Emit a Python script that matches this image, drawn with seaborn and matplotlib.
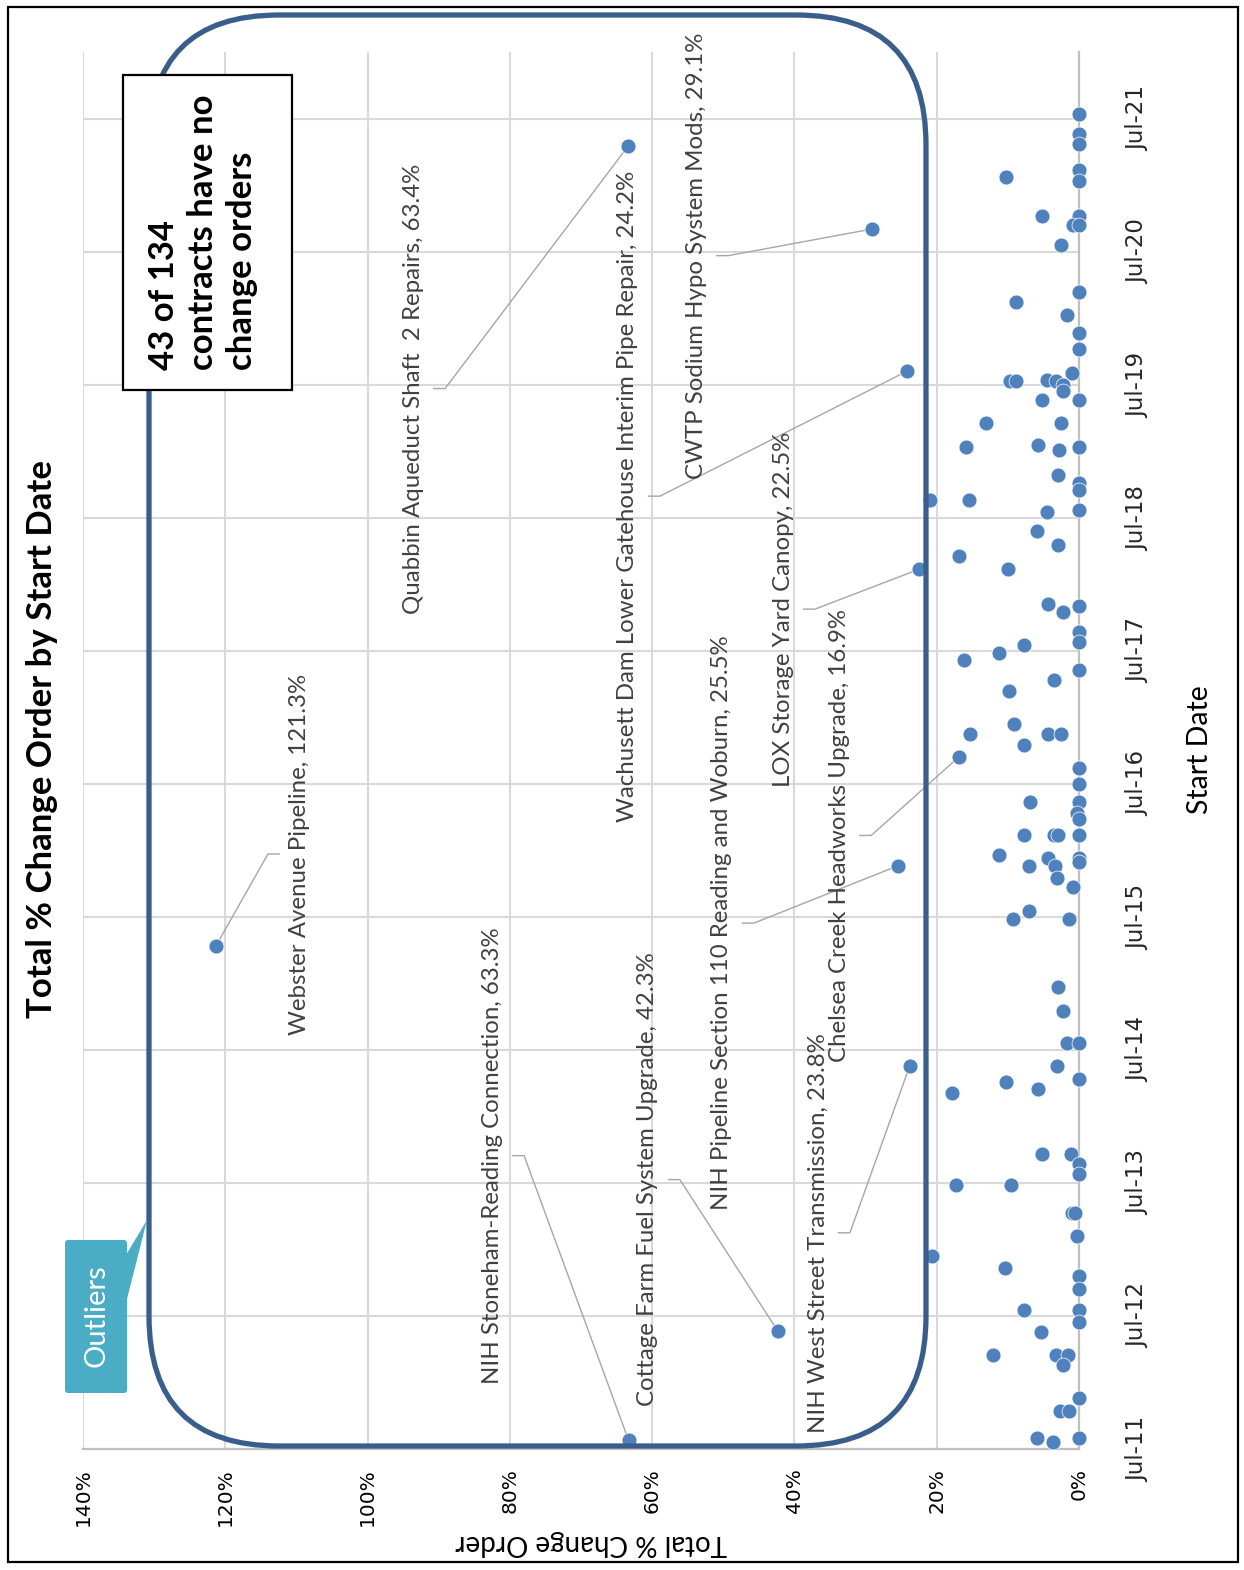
import numpy as np
import pandas as pd
import matplotlib
matplotlib.use("Agg")
import matplotlib.pyplot as plt
import matplotlib.dates as mdates
from matplotlib.patches import FancyBboxPatch, Polygon, Rectangle
import seaborn as sns

# ---------------- data ----------------
# total % change order of each contract
pct_values = [
    0, 0, 0, 10.2, 0, 0, 5.2, 0, 0.9, 0, 2.6, 0, 8.8, 1.7, 0, 0, 1.0, 9.7, 8.9, 4.5,
    3.3, 2.2, 2.3, 5.2, 0, 13.1, 2.6,
    15.9, 5.8, 2.8, 0, 3.0, 0, 0, 20.9, 15.4, 4.5, 0, 5.9, 3.0, 16.9, 10.0, 4.4, 2.3,
    0, 0, 0, 7.7, 11.2, 16.2, 0, 3.5, 9.8, 9.1, 15.3, 4.4, 2.6, 7.7, 0, 0,
    6.9, 0, 0.3, 0, 7.8, 3.5, 2.9, 0, 11.3, 7.0, 4.4, 3.4, 3.1, 0.9, 0, 0, 7.0, 9.3,
    1.4, 3.0, 2.2, 1.7, 0, 3.1, 10.2, 5.8, 0, 17.9,
    5.2, 1.1, 0, 0, 17.3, 9.6, 1.0, 0.5, 0.3, 20.6, 10.4, 0, 0, 7.7, 0, 0, 5.3, 12.1,
    3.3, 1.6, 2.2, 0, 2.7, 1.4, 5.9, 3.6, 0,
    # labelled contracts
    121.3, 63.3, 42.3, 63.4, 24.2, 29.1, 22.5, 16.9, 25.5, 23.8,
]
# start date of each contract (decimal year)
start_years = [
    2021.53, 2021.385, 2021.31, 2021.06, 2021.11, 2021.03, 2020.77, 2020.77, 2020.70, 2020.70,
    2020.55, 2020.20, 2020.12, 2020.025, 2019.89, 2019.77, 2019.585, 2019.53, 2019.53, 2019.535,
    2019.53, 2019.50, 2019.45, 2019.385, 2019.385, 2019.21, 2019.21,
    2019.03, 2019.045, 2019.01, 2019.03, 2018.82, 2018.76, 2018.71, 2018.63, 2018.63, 2018.54,
    2018.555, 2018.40, 2018.29, 2018.21, 2018.11, 2017.845, 2017.79,
    2017.83, 2017.64, 2017.56, 2017.54, 2017.48, 2017.43, 2017.355, 2017.275, 2017.195, 2016.95,
    2016.875, 2016.875, 2016.875, 2016.79, 2016.62, 2016.495,
    2016.36, 2016.36, 2016.28, 2016.23, 2016.11, 2016.11, 2016.11, 2016.11, 2015.96, 2015.88,
    2015.94, 2015.88, 2015.79, 2015.725, 2015.94, 2015.91, 2015.54, 2015.48,
    2015.48, 2014.97, 2014.79, 2014.545, 2014.545, 2014.375, 2014.255, 2014.20, 2014.275, 2014.17,
    2013.71, 2013.71, 2013.64, 2013.56, 2013.48, 2013.48, 2013.27, 2013.27, 2013.095, 2012.95,
    2012.855, 2012.80, 2012.70, 2012.545, 2012.545, 2012.45, 2012.375, 2012.205,
    2012.205, 2012.205, 2012.125, 2011.88, 2011.78, 2011.78, 2011.575, 2011.55, 2011.575,
    # labelled contracts
    2015.28, 2011.56, 2012.38, 2021.29, 2019.60, 2020.67, 2018.11, 2016.70, 2015.88, 2014.375,
]

label_names = [
    "Webster Avenue Pipeline, 121.3%",
    "NIH Stoneham-Reading Connection, 63.3%",
    "Cottage Farm Fuel System Upgrade, 42.3%",
    "Quabbin Aqueduct Shaft  2 Repairs, 63.4%",
    "Wachusett Dam Lower Gatehouse Interim Pipe Repair, 24.2%",
    "CWTP Sodium Hypo System Mods, 29.1%",
    "LOX Storage Yard Canopy, 22.5%",
    "Chelsea Creek Headworks Upgrade, 16.9%",
    "NIH Pipeline Section 110 Reading and Woburn, 25.5%",
    "NIH West Street Transmission, 23.8%",
]
label_point_pct = [121.3, 63.3, 42.3, 63.4, 24.2, 29.1, 22.5, 16.9, 25.5, 23.8]
label_point_year = [2015.28, 2011.56, 2012.38, 2021.29, 2019.60, 2020.67, 2018.11, 2016.70, 2015.88, 2014.375]

# label placement (layout, not data)
label_text_pct = [109.5, 82.5, 60.6, 93.6, 63.4, 53.8, 41.6, 33.7, 50.2, 36.7]
label_text_year = [2015.97, 2013.70, 2013.52, 2019.47, 2018.66, 2020.47, 2017.81, 2016.11, 2015.45, 2013.12]
label_side = [1, -1, -1, -1, -1, -1, -1, -1, -1, -1]

pct_ticks = [0, 20, 40, 60, 80, 100, 120, 140]
tick_years = list(range(2011, 2022))

note_text = "43 of 134\ncontracts have no\nchange orders"


def to_date(y):
    base = pd.Timestamp(year=int(y), month=1, day=1)
    return base + pd.Timedelta(days=(y - int(y)) * 365.25)


# ---------------- figure ----------------
W, H = 1244, 1570
sns.set_style("white")
plt.rcParams["font.family"] = ["Lato", "DejaVu Sans"]

fig = plt.figure(figsize=(W / 100, H / 100), dpi=100)
ax = fig.add_axes([83 / W, (H - 1449) / H, (1079 - 83) / W, (1449 - 52) / H])

df = pd.DataFrame({"pct": pct_values, "date": [to_date(y) for y in start_years]})

# leader lines
for i in range(len(label_names)):
    c = label_text_pct[i]
    s = label_side[i]
    end_p = c + s * 2.8
    elb_p = c + s * 4.5
    ly = to_date(label_text_year[i])
    ax.plot([label_point_pct[i], elb_p, end_p],
            [to_date(label_point_year[i]), ly, ly],
            color="#A6A6A6", lw=1.0, zorder=2, solid_capstyle="butt")

sns.scatterplot(data=df, x="pct", y="date", ax=ax, s=115, color="#4F81BD",
                edgecolor="white", linewidth=0.5, zorder=3, legend=False,
                clip_on=False)

for i, name in enumerate(label_names):
    ax.text(label_text_pct[i], to_date(label_text_year[i]), name, rotation=90,
            rotation_mode="anchor", ha="center", va="center", fontsize=17.3,
            color="#404040", family="Lato", zorder=4)

ax.set_xlim(140, 0)
ax.set_ylim(pd.Timestamp("2011-07-01"), pd.Timestamp("2022-01-01"))
ax.set_xticks(pct_ticks)
ax.set_xticklabels([f"{v}%" for v in pct_ticks], rotation=90, family="DejaVu Sans",
                   fontsize=14.5, color="black")
ax.set_yticks([pd.Timestamp(year=y, month=7, day=1) for y in tick_years])
ax.yaxis.set_major_formatter(mdates.DateFormatter("%b-%y"))
ax.yaxis.tick_right()
for t in ax.get_yticklabels():
    t.set_rotation(90)
    t.set_family("DejaVu Sans")
    t.set_fontsize(16.5)
    t.set_va("center")
ax.tick_params(axis="x", length=0, pad=14)
ax.tick_params(axis="y", length=0, pad=34)
ax.set_xlabel("")
ax.set_ylabel("")
ax.grid(True, color="#D9D9D9", lw=1.5)
ax.set_axisbelow(True)
for side in ["top", "left"]:
    ax.spines[side].set_visible(False)
for side in ["right", "bottom"]:
    ax.spines[side].set_color("#BFBFBF")
    ax.spines[side].set_linewidth(1.6)

# ---------------- annotations in figure pixel space ----------------
def px(x, y):
    return x / 100, (H - y) / 100

# outer border
x0, y0 = px(8, 1562)
fig.add_artist(Rectangle((x0, y0), 1230 / 100, 1555 / 100, transform=fig.dpi_scale_trans,
                         fill=False, ec="black", lw=1.6, zorder=1))

# rounded outline around outliers
x0, y0 = px(149, 1446)
fig.add_artist(FancyBboxPatch((x0, y0), (926 - 149) / 100, (1446 - 15) / 100,
                              boxstyle="round,pad=0,rounding_size=1.3",
                              transform=fig.dpi_scale_trans, fill=False,
                              ec="#3A5E8C", lw=3.8, zorder=2))

# note box
x0, y0 = px(123, 390)
fig.add_artist(Rectangle((x0, y0), (292 - 123) / 100, (390 - 75) / 100,
                         transform=fig.dpi_scale_trans, fc="white", ec="black",
                         lw=1.6, zorder=3))
fig.text(203 / W, 1 - 370 / H, note_text, rotation=90, rotation_mode="anchor",
         ha="left", va="center", multialignment="left", fontsize=25,
         fontweight="bold", family="Lato", linespacing=1.28, color="black", zorder=4)

# "Outliers" callout
x0, y0 = px(65, 1393)
fig.add_artist(FancyBboxPatch((x0, y0), (127 - 65) / 100, (1393 - 1240) / 100,
                              boxstyle="round,pad=0,rounding_size=0.03",
                              transform=fig.dpi_scale_trans, fc="#4BACC6", ec="none",
                              zorder=3))
fig.add_artist(Polygon([px(126, 1255), px(147, 1220), px(126, 1303)], closed=True,
                       transform=fig.dpi_scale_trans, fc="#4BACC6", ec="none", zorder=3))
fig.text(97 / W, 1 - 1316 / H, "Outliers", rotation=90, rotation_mode="anchor",
         ha="center", va="center", fontsize=21, color="white", family="Lato", zorder=4)

# titles
fig.text(42 / W, 1 - 739 / H, "Total % Change Order by Start Date", rotation=90,
         rotation_mode="anchor", ha="center", va="center", fontsize=25,
         fontweight="bold", family="Lato", color="black")
fig.text(1200 / W, 1 - 750 / H, "Start Date", rotation=90, rotation_mode="anchor",
         ha="center", va="center", fontsize=20.5, family="Lato", color="black")
fig.text(591 / W, 1 - 1543 / H, "Total % Change Order", rotation=180,
         rotation_mode="anchor", ha="center", va="center", fontsize=20,
         family="Lato", color="black")

fig.savefig("out.png", dpi=100)
